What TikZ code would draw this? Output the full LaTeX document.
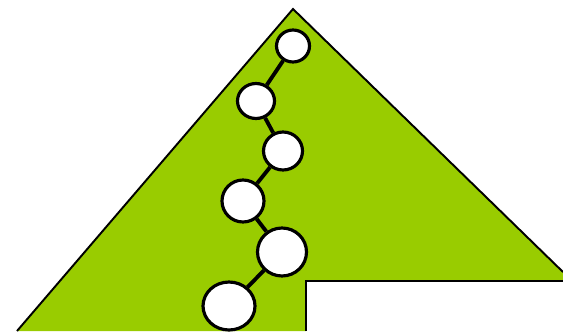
\documentclass[tikz,border=0pt]{standalone}
\usepackage{tikz}
\usetikzlibrary{shapes.geometric}
\definecolor{leafgreen}{RGB}{153,204,0}

\begin{document}
\begin{tikzpicture}[x=0.02cm, y=-0.02cm,
    bead/.style={ellipse, draw, fill=white, line width=1.8pt, inner sep=0pt},
    link/.style={line width=2.2pt}]
    \useasboundingbox (0,0) rectangle (563,331);
    \fill[leafgreen] (17,331) -- (293,9) -- (563,272) -- (563,281) -- (306,281) -- (306,331) -- cycle;
    \draw[line width=1.1pt] (17,331) -- (293,9) -- (563,272);
    \draw[line width=1.6pt] (563,281) -- (306,281) -- (306,331);
    \node[bead, minimum width=33*0.02cm, minimum height=32*0.02cm] (b1) at (293,46) {};
    \node[bead, minimum width=37*0.02cm, minimum height=35*0.02cm] (b2) at (256,101) {};
    \node[bead, minimum width=39*0.02cm, minimum height=38*0.02cm] (b3) at (283,151) {};
    \node[bead, minimum width=42*0.02cm, minimum height=42*0.02cm] (b4) at (243,201) {};
    \node[bead, minimum width=49*0.02cm, minimum height=48*0.02cm] (b5) at (282,252) {};
    \node[bead, minimum width=52*0.02cm, minimum height=48*0.02cm] (b6) at (229,306) {};
    \draw[link] (b1) -- (b2);
    \draw[link] (b2) -- (b3);
    \draw[link] (b3) -- (b4);
    \draw[link] (b4) -- (b5);
    \draw[link] (b5) -- (b6);
\end{tikzpicture}
\end{document}
